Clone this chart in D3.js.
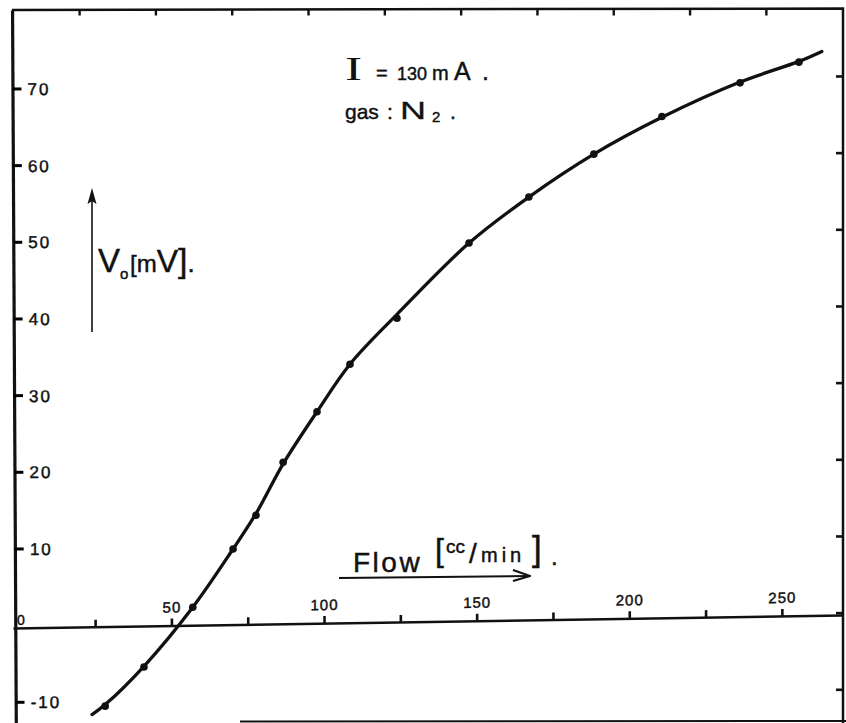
<!DOCTYPE html>
<html>
<head>
<meta charset="utf-8">
<script src="https://cdn.jsdelivr.net/npm/d3@7/dist/d3.min.js"></script>
<style>
  html, body { margin: 0; padding: 0; background: #fff; }
  svg { display: block; }
  text { font-family: "Liberation Sans", "DejaVu Sans", sans-serif; fill: #111; stroke: #111; stroke-width: 0.45px; }
</style>
</head>
<body>
<svg id="chart" width="846" height="723"></svg>
<script>
// Output voltage V0 [mV] against gas flow [cc/min], I = 130 mA, gas N2
const flow    = [28.3, 41.0, 57.0, 70.2, 77.7, 86.6, 97.7, 108.5, 123.9, 147.5, 167.1, 188.4, 210.7, 236.3, 255.6];
const voltage = [-10.5, -5.4, 2.4, 10.0, 14.4, 21.3, 27.9, 34.1, 40.1, 49.9, 55.9, 61.5, 66.4, 70.8, 73.5];

// Smooth curve drawn through the measurements
const fitFlow = [24.0, 28.3, 41.0, 57.0, 70.2, 77.7, 86.6, 97.7, 108.5, 123.9, 147.5, 167.1, 188.4, 210.7, 236.3, 255.6, 263.1];
const fitVolt = [-11.6, -10.3, -5.3, 2.4, 10.0, 14.6, 21.1, 27.9, 34.1, 40.6, 49.9, 55.9, 61.5, 66.3, 70.9, 73.6, 74.9];

// Axis ticks
const flowTicks = [25, 50, 75, 100, 125, 150, 175, 200, 225, 250];
const flowLabels = [50, 100, 150, 200, 250];
const voltTicks = [-10, 10, 20, 30, 40, 50, 60, 70];
const frameVoltTicks = [-10, 0, 10, 20, 30, 40, 50, 60, 70];

const ink = "#111";
const svg = d3.select("#chart");

const x = d3.scaleLinear().domain([-1.9, 269.7]).range([13, 842]);
const y = d3.scaleLinear().domain([-12.7, 80.3]).range([723, 10]);

// ---- paper frame with its own printed tick marks ----
svg.append("path")
  .attr("d", "M12,10 L843,8.5 L843,723")
  .attr("fill", "none").attr("stroke", ink).attr("stroke-width", 2.5);
svg.append("line")
  .attr("x1", 240).attr("y1", 721.5).attr("x2", 846).attr("y2", 721)
  .attr("stroke", ink).attr("stroke-width", 2);

const xTop = x.copy().range([13 - 16, 842 - 16]);
const topTicks = svg.append("g").attr("transform", "translate(0,9.5)")
  .call(d3.axisBottom(xTop).tickValues(flowTicks).tickSize(6).tickFormat(""));
topTicks.select(".domain").remove();
topTicks.selectAll("line").attr("stroke", ink).attr("stroke-width", 2.4);

const yRight = y.copy().range([723 - 13, 10 - 13]);
const rightTicks = svg.append("g").attr("transform", "translate(843,0)")
  .call(d3.axisLeft(yRight).tickValues(frameVoltTicks).tickSize(7).tickFormat(""));
rightTicks.select(".domain").remove();
rightTicks.selectAll("line").attr("stroke", ink).attr("stroke-width", 2.6);

// ---- vertical (voltage) axis ----
const yAxisG = svg.append("g")
  .attr("transform", "translate(12,0) skewX(0.3)")
  .call(d3.axisRight(y).tickValues(voltTicks).tickSize(8).tickSizeOuter(0)
        .tickPadding(7).tickFormat(d => String(d)));
yAxisG.select(".domain").attr("stroke", ink).attr("stroke-width", 3.2);
yAxisG.selectAll(".tick line").remove();
yAxisG.selectAll(".tick text")
  .attr("fill", ink).style("font-size", "17px").style("letter-spacing", "2px")
  .style("font-family", "'Liberation Sans', sans-serif");

// short marks from the voltage axis into the plot
svg.append("g").selectAll("line")
  .data(voltTicks)
  .join("line")
  .attr("x1", d => 12 + 0.005 * y(d)).attr("x2", d => 21 + 0.005 * y(d))
  .attr("y1", d => y(d)).attr("y2", d => y(d))
  .attr("stroke", "#000").attr("stroke-width", 3);

// ---- horizontal (flow) axis along V = 0 ----
const xAxisG = svg.append("g")
  .attr("transform", "translate(0,628.2) skewY(-0.9)")
  .call(d3.axisTop(x).tickValues(flowTicks).tickSize(7).tickSizeOuter(0)
        .tickPadding(6).tickFormat(d => flowLabels.includes(d) ? String(d) : ""));
xAxisG.select(".domain").attr("stroke", ink).attr("stroke-width", 2.4);
xAxisG.selectAll(".tick line").attr("stroke", ink).attr("stroke-width", 2.6);
xAxisG.selectAll(".tick text")
  .attr("fill", ink).style("font-size", "15px").style("letter-spacing", "1px")
  .style("font-family", "'Liberation Sans', sans-serif");

// origin label
svg.append("text").attr("x", 17).attr("y", 625)
  .style("font-size", "14px").text("0");

// ---- fitted curve and measured points ----
const fit = fitFlow.map((f, i) => [f, fitVolt[i]]);
svg.append("path")
  .datum(fit)
  .attr("fill", "none").attr("stroke", ink).attr("stroke-width", 3.3)
  .attr("stroke-linecap", "round")
  .attr("d", d3.line().x(d => x(d[0])).y(d => y(d[1])).curve(d3.curveCatmullRom.alpha(0.5)));

svg.append("g").selectAll("circle")
  .data(flow.map((f, i) => [f, voltage[i]]))
  .join("circle")
  .attr("cx", d => x(d[0])).attr("cy", d => y(d[1]))
  .attr("r", 3.8).attr("fill", ink);

// ---- annotation ----
svg.append("text").attr("transform", "translate(345,80) scale(1.5,1)")
  .style("font-family", "'Liberation Serif', serif").style("font-size", "34px")
  .style("stroke-width", "0px").text("I");
const note = svg.append("text").attr("y", 80);
note.append("tspan").attr("x", 376).style("font-size", "20px").text("=");
note.append("tspan").attr("x", 397).style("font-size", "18px").text("130");
note.append("tspan").attr("x", 432).style("font-size", "20px").text("m");
note.append("tspan").attr("x", 454).style("font-size", "25px").text("A");
note.append("tspan").attr("x", 482).style("font-size", "25px").text(".");

const gas = svg.append("text").attr("y", 119);
gas.append("tspan").attr("x", 345).style("font-size", "21px").text("gas");
gas.append("tspan").attr("x", 387).style("font-size", "21px").text(":");
svg.append("text").attr("transform", "translate(400,119) scale(1.5,1)")
  .style("font-size", "24px").style("stroke-width", "0.3px").text("N");
const gasSub = svg.append("text").attr("y", 122);
gasSub.append("tspan").attr("x", 432).style("font-size", "15px").text("2");
gasSub.append("tspan").attr("x", 450).attr("dy", -3).style("font-size", "21px").text(".");

// ---- y-axis title with arrow ----
svg.append("line").attr("x1", 92).attr("y1", 332).attr("x2", 92).attr("y2", 198)
  .attr("stroke", ink).attr("stroke-width", 1.6);
svg.append("path").attr("d", "M92,188 L87.5,204 L92,201 L96.5,204 Z").attr("fill", ink);

const vLab = svg.append("text").attr("y", 272);
vLab.append("tspan").attr("x", 98).style("font-size", "33px").text("V");
vLab.append("tspan").attr("x", 120).attr("dy", 7).style("font-size", "15px").text("o");
vLab.append("tspan").attr("x", 130).attr("dy", -7).style("font-size", "24px").text("[");
vLab.append("tspan").style("font-size", "24px").text("m");
vLab.append("tspan").style("font-size", "32px").text("V");
vLab.append("tspan").style("font-size", "34px").text("]");
vLab.append("tspan").style("font-size", "26px").text(".");

// ---- x-axis title with arrow ----
const fl = svg.append("text");
fl.append("tspan").attr("x", 353).attr("y", 572).style("font-size", "28px").style("letter-spacing", "2.5px").text("Flow");
fl.append("tspan").attr("x", 435).attr("y", 561).style("font-size", "32px").text("[");
fl.append("tspan").attr("x", 446).attr("y", 553).style("font-size", "19px").text("cc");
fl.append("tspan").attr("x", 469).attr("y", 563).style("font-size", "28px").text("/");
fl.append("tspan").attr("x", 481).attr("y", 562).style("font-size", "20px").style("letter-spacing", "4px").text("min");
fl.append("tspan").attr("x", 532).attr("y", 561).style("font-size", "35px").text("]");
fl.append("tspan").attr("x", 551).attr("y", 565).style("font-size", "24px").text(".");

svg.append("line").attr("x1", 339).attr("y1", 578).attr("x2", 529).attr("y2", 576)
  .attr("stroke", ink).attr("stroke-width", 2);
svg.append("path").attr("d", "M513,570 L530,576 L513,581")
  .attr("fill", "none").attr("stroke", ink).attr("stroke-width", 2.2)
  .attr("stroke-linejoin", "round");
</script>
</body>
</html>
